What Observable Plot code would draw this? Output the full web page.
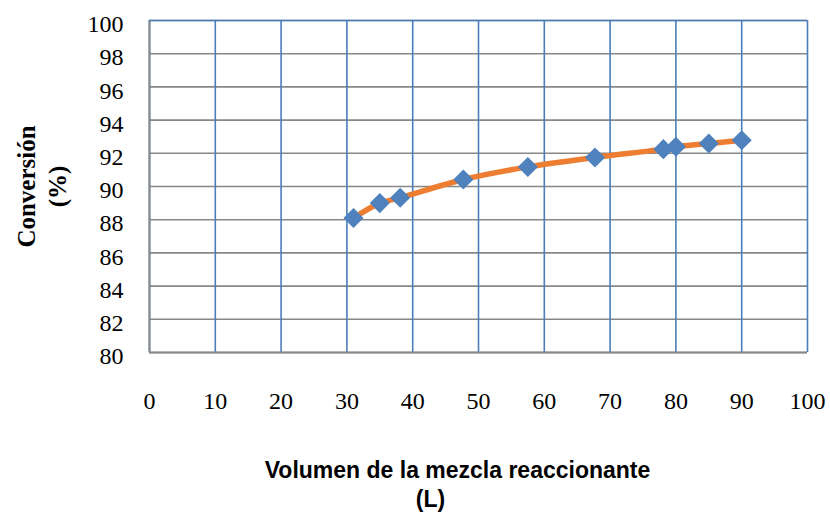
<!DOCTYPE html>
<html>
<head>
<meta charset="utf-8">
<script src="https://cdn.jsdelivr.net/npm/d3@7"></script>
<script src="https://cdn.jsdelivr.net/npm/@observablehq/plot@0.6"></script>
<style>
  html, body { margin: 0; padding: 0; background: #fff; }
  #chart svg { display: block; background: #fff; overflow: visible; }
</style>
</head>
<body>
<div id="chart"></div>
<script>
// Data
const volumen = [31.0, 35.0, 38.1, 47.7, 57.5, 67.7, 78.1, 80.0, 85.0, 90.0];
const conversion = [88.1, 89.0, 89.32, 90.42, 91.18, 91.75, 92.25, 92.39, 92.59, 92.79];
const xTicks = [0, 10, 20, 30, 40, 50, 60, 70, 80, 90, 100];
const yTicks = [80, 82, 84, 86, 88, 90, 92, 94, 96, 98, 100];
const yTitle = "Conversión\n(%)";
const xTitle1 = "Volumen de la mezcla reaccionante";
const xTitle2 = "(L)";

const data = volumen.map((v, i) => ({x: v, y: conversion[i]}));

const blue = "#4A7EBB";
const gray = "#878787";

const chart = Plot.plot({
  width: 830,
  height: 517,
  marginLeft: 149,
  marginRight: 23,
  marginTop: 20,
  marginBottom: 165,
  style: {fontFamily: "'Liberation Serif', 'Times New Roman', serif", fontSize: "24px", color: "#000", background: "#fff"},
  x: {domain: [0, 100]},
  y: {domain: [80, 100]},
  marks: [
    Plot.gridY(yTicks, {stroke: gray, strokeOpacity: 1, strokeWidth: 1.6}),
    Plot.gridX(xTicks, {stroke: blue, strokeOpacity: 1, strokeWidth: 1.6}),
    Plot.ruleX([xTicks[0]], {stroke: gray, strokeWidth: 2}),
    Plot.ruleY([yTicks[0]], {stroke: gray, strokeWidth: 2}),
    Plot.ruleY([yTicks[yTicks.length - 1]], {stroke: blue, strokeWidth: 1.6}),
    Plot.axisY(yTicks, {tickSize: 0, tickPadding: 26, dy: 4, fontSize: 24, label: null}),
    Plot.axisX(xTicks, {tickSize: 0, tickPadding: 39, fontSize: 24, label: null}),
    Plot.line(data, {x: "x", y: "y", stroke: "#ED7D31", strokeWidth: 5.5, curve: "catmull-rom"}),
    Plot.dot(data, {x: "x", y: "y", symbol: "square", r: 8, rotate: 45, fill: "#4F81BD", stroke: "none"}),
    Plot.text([yTitle], {frameAnchor: "left", textAnchor: "middle", lineAnchor: "middle", dx: -109, rotate: -90, fontWeight: "bold", fontSize: 25, lineHeight: 1.25, fill: "#000"}),
    Plot.text([xTitle1], {frameAnchor: "bottom", textAnchor: "middle", lineAnchor: "middle", dx: -21, dy: 118, fontFamily: "'Liberation Sans', Arial, sans-serif", fontWeight: "bold", fontSize: 23, fill: "#000"}),
    Plot.text([xTitle2], {frameAnchor: "bottom", textAnchor: "middle", lineAnchor: "middle", dx: -48, dy: 147, fontFamily: "'Liberation Sans', Arial, sans-serif", fontWeight: "bold", fontSize: 23, fill: "#000"})
  ]
});
document.getElementById("chart").appendChild(chart);
</script>
</body>
</html>
